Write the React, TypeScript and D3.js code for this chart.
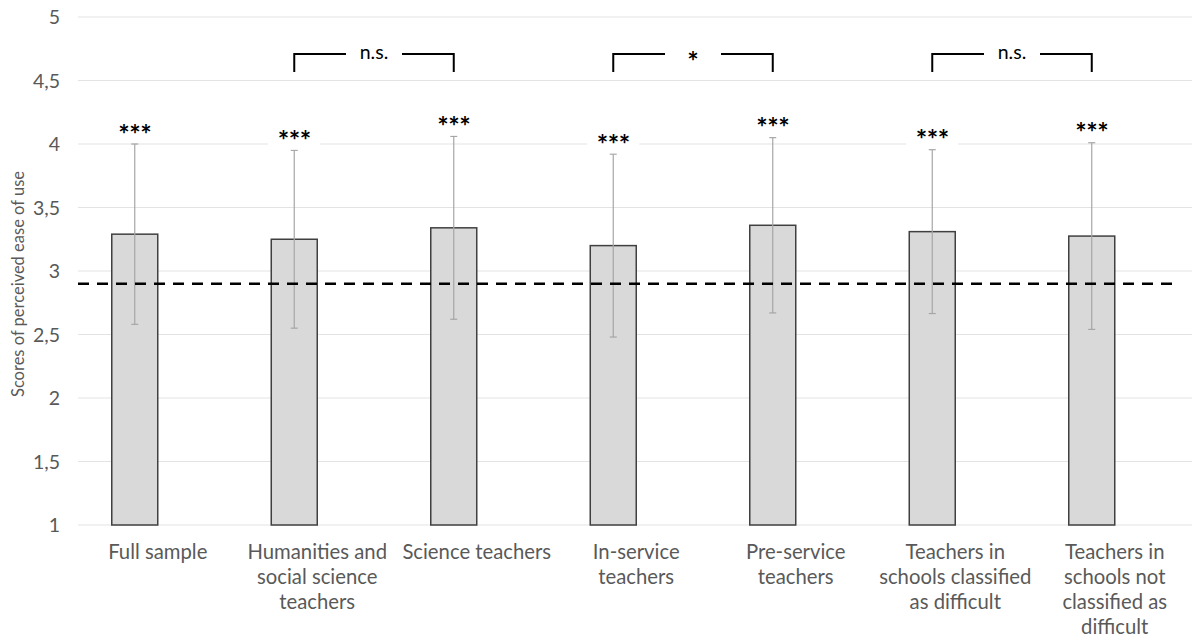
import React from "react";
import * as d3 from "d3";

const categories = [
  "Full sample",
  "Humanities and social science teachers",
  "Science teachers",
  "In-service teachers",
  "Pre-service teachers",
  "Teachers in schools classified as difficult",
  "Teachers in schools not classified as difficult",
];
const labelLines = [
  ["Full sample"],
  ["Humanities and", "social science", "teachers"],
  ["Science teachers"],
  ["In-service", "teachers"],
  ["Pre-service", "teachers"],
  ["Teachers in", "schools classified", "as difficult"],
  ["Teachers in", "schools not", "classified as", "difficult"],
];
const seriesKeys = ["score", "blank"];
const means = [3.29, 3.25, 3.34, 3.2, 3.36, 3.31, 3.275];
const sds = [0.71, 0.7, 0.72, 0.72, 0.69, 0.645, 0.735];
const stars = ["***", "***", "***", "***", "***", "***", "***"];
const referenceValue = 2.9;
const yTicks = [1, 1.5, 2, 2.5, 3, 3.5, 4, 4.5, 5];
const brackets = [
  { from: 1, to: 2, label: "n.s." },
  { from: 3, to: 4, label: "*" },
  { from: 5, to: 6, label: "n.s." },
];

const W = 1192;
const H = 644;
const FONT = "Lato, 'Open Sans', sans-serif";
const TEXT = "#595959";

export default function App() {
  const x0 = d3.scaleBand<string>().domain(categories).range([78, 1194.5]);
  const x1 = d3
    .scaleBand<string>()
    .domain(seriesKeys)
    .range([0, x0.bandwidth()])
    .paddingInner(0)
    .paddingOuter(0.734);
  const y = d3.scaleLinear().domain([1, 5]).range([525, 17]);
  const bw = x1.bandwidth();
  const barX = (i: number) =>
    (x0(categories[i]) as number) + (x1("score") as number);
  const cx = (i: number) => barX(i) + bw / 2;
  const lx = (i: number) => (x0(categories[i]) as number) + x0.bandwidth() / 2;
  const fmt = (v: number) => String(v).replace(".", ",");
  const bracketY = 54;
  const bracketDrop = 18;

  return (
    <svg
      width={W}
      height={H}
      style={{ position: "absolute", left: 0, top: 0, background: "#fff" }}
      fontFamily={FONT}
    >
      {/* gridlines */}
      {yTicks.map((t) => (
        <line
          key={"g" + t}
          x1={78}
          x2={W}
          y1={y(t)}
          y2={y(t)}
          stroke="#e3e3e3"
          strokeWidth={1.2}
        />
      ))}
      {/* y tick labels */}
      {yTicks.map((t) => (
        <text
          key={"t" + t}
          x={60}
          y={y(t)}
          dy="0.36em"
          textAnchor="end"
          fontSize={19.5}
          fill={TEXT}
        >
          {fmt(t)}
        </text>
      ))}
      {/* y axis title */}
      <text
        transform={`translate(18, 284) rotate(-90)`}
        textAnchor="middle"
        dy="0.35em"
        fontSize={16.5}
        fill={TEXT}
      >
        Scores of perceived ease of use
      </text>
      {/* bars */}
      {categories.map((c, i) => (
        <rect
          key={"b" + c}
          x={barX(i)}
          y={y(means[i])}
          width={bw}
          height={y(1) - y(means[i])}
          fill="#d9d9d9"
          stroke="#404040"
          strokeWidth={1.5}
        />
      ))}
      {/* error bars */}
      {categories.map((c, i) => {
        const top = y(means[i] + sds[i]);
        const bot = y(means[i] - sds[i]);
        const xc = cx(i);
        return (
          <g key={"e" + c} stroke="#a6a6a6" strokeWidth={1.2}>
            <line x1={xc} x2={xc} y1={top} y2={bot} />
            <line x1={xc - 3.5} x2={xc + 3.5} y1={top} y2={top} />
            <line x1={xc - 3.5} x2={xc + 3.5} y1={bot} y2={bot} />
          </g>
        );
      })}
      {/* reference line */}
      <line
        x1={78}
        x2={1177}
        y1={y(referenceValue)}
        y2={y(referenceValue)}
        stroke="#000"
        strokeWidth={2.5}
        strokeDasharray="11 8"
      />
      {/* star labels with white boxes */}
      {categories.map((c, i) => {
        const top = y(means[i] + sds[i]);
        const sy = top - 17;
        const xc = cx(i);
        return (
          <g key={"s" + c}>
            <rect
              x={xc - 26}
              y={sy - 12}
              width={52}
              height={top - 1 - (sy - 12)}
              fill="#fff"
            />
            <text
              x={xc}
              y={sy}
              dy="0.62em"
              textAnchor="middle"
              fontSize={27}
              fontWeight="bold"
              letterSpacing={-0.5}
              fill="#000"
            >
              {stars[i]}
            </text>
          </g>
        );
      })}
      {/* brackets */}
      {brackets.map((b, k) => {
        const xa = cx(b.from);
        const xb = cx(b.to);
        const mid = (xa + xb) / 2;
        const gap = 28;
        const star = b.label === "*";
        return (
          <g key={"k" + k} stroke="#000" strokeWidth={2} fill="none">
            <path
              d={`M${xa},${bracketY + bracketDrop}V${bracketY}H${mid - gap}`}
            />
            <path
              d={`M${xb},${bracketY + bracketDrop}V${bracketY}H${mid + gap}`}
            />
            <text
              x={mid}
              y={bracketY}
              dy={star ? "0.62em" : "0.25em"}
              textAnchor="middle"
              fontSize={star ? 27 : 19.5}
              fontWeight={star ? "bold" : "normal"}
              fill="#000"
              stroke="none"
            >
              {b.label}
            </text>
          </g>
        );
      })}
      {/* x labels */}
      {categories.map((c, i) => (
        <text
          key={"x" + c}
          x={lx(i)}
          y={552}
          textAnchor="middle"
          fontSize={20.3}
          fill={TEXT}
        >
          {labelLines[i].map((l, j) => (
            <tspan key={j} x={lx(i)} dy={j === 0 ? "0.35em" : 25}>
              {l}
            </tspan>
          ))}
        </text>
      ))}
    </svg>
  );
}
